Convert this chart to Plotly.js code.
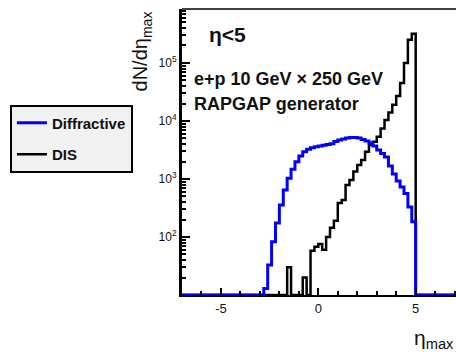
<!DOCTYPE html>
<html>
<head>
<meta charset="utf-8">
<script src="https://cdn.plot.ly/plotly-3.0.1.min.js"></script>
<style>
  html, body { margin: 0; padding: 0; background: #ffffff; }
  #chart { width: 456px; height: 352px; }
</style>
</head>
<body>
<div id="chart"></div>
<script>
// Histogram bin width in eta_max
const BIN_WIDTH = 0.2;

// Diffractive events: first bin low edge and counts per bin
const diffFirstEdge = -2.8;
const diffCounts = [
  13, 33, 83, 174, 355, 645, 1030, 1470, 1990, 2500,
  2960, 3250, 3450, 3600, 3700, 3800, 3920, 4060, 4430, 4700,
  4890, 5100, 5200, 5200, 5100, 4800, 4500, 4150, 3700, 3160,
  2750, 2390, 1670, 1220, 920, 725, 560, 330, 184
];

// DIS events: first bin low edge and counts per bin
const disFirstEdge = -1.6;
const disCounts = [
  30, 0, 0, 0, 20, 0, 58, 68, 76, 60,
  100, 145, 190, 385, 435, 790, 960, 1340, 1740, 2130,
  2960, 3860, 4390, 5350, 7400, 10400, 14000, 19000, 27000, 45000,
  100000, 250000, 320000
];

// Axis ticks
const xTickVals = [-5, 0, 5];
const xTickText = ['-5', '0', '5'];
const yTickVals = [1e2, 1e3, 1e4, 1e5];
const yTickText = ['10<sup>2</sup>', '10<sup>3</sup>', '10<sup>4</sup>', '10<sup>5</sup>'];

const X_RANGE = [-7, 7.07];
const Y_FLOOR = 10;                 // empty bins are drawn on the axis floor
const Y_RANGE_LOG = [1, 5.93];

const FONT = 'Liberation Sans, Arial, Helvetica, sans-serif';
const INK = '#111111';

// Build a step outline (ROOT-style histogram) from bin counts
function histOutline(firstEdge, counts) {
  const xs = [X_RANGE[0]];
  const ys = [Y_FLOOR];
  counts.forEach((c, i) => {
    xs.push(Math.round((firstEdge + i * BIN_WIDTH) * 100) / 100);
    ys.push(c > 0 ? c : Y_FLOOR);
  });
  xs.push(Math.round((firstEdge + counts.length * BIN_WIDTH) * 100) / 100);
  ys.push(Y_FLOOR);
  xs.push(X_RANGE[1]);
  ys.push(Y_FLOOR);
  return { x: xs, y: ys };
}

const dis = histOutline(disFirstEdge, disCounts);
const diff = histOutline(diffFirstEdge, diffCounts);

const traces = [
  {
    type: 'scatter', mode: 'lines', name: '<b>DIS</b>',
    x: dis.x, y: dis.y,
    line: { shape: 'hv', color: '#000000', width: 2.5 },
    cliponaxis: false, legendrank: 2, legendgroup: 'b',
    hoverinfo: 'skip'
  },
  {
    type: 'scatter', mode: 'lines', name: '<b>Diffractive</b>',
    x: diff.x, y: diff.y,
    line: { shape: 'hv', color: '#0000ff', width: 3 },
    cliponaxis: false, legendrank: 1, legendgroup: 'a',
    hoverinfo: 'skip'
  }
];

const layout = {
  width: 456, height: 352,
  margin: { l: 182, r: 0, t: 9, b: 57 },
  paper_bgcolor: '#ffffff', plot_bgcolor: '#ffffff',
  font: { family: FONT, color: INK },
  showlegend: true,
  legend: {
    x: -0.628, y: 0.666, xanchor: 'left', yanchor: 'top',
    bgcolor: '#f1f1f1', bordercolor: '#000000', borderwidth: 2,
    font: { family: FONT, size: 15, color: INK },
    traceorder: 'grouped', tracegroupgap: 9,
    entrywidth: 100
  },
  xaxis: {
    type: 'linear', range: X_RANGE,
    showgrid: false, zeroline: false,
    showline: true, linecolor: '#000000', linewidth: 2,
    tickmode: 'array', tickvals: xTickVals, ticktext: xTickText,
    ticks: 'inside', ticklen: 7, tickwidth: 2, tickcolor: '#000000',
    minor: { ticks: 'inside', ticklen: 4, tickwidth: 2, tickcolor: '#000000', dtick: 1, tick0: 0, showgrid: false },
    tickfont: { family: FONT, size: 13, color: INK }
  },
  yaxis: {
    type: 'log', range: Y_RANGE_LOG,
    showgrid: false, zeroline: false,
    showline: true, linecolor: '#000000', linewidth: 3,
    tickmode: 'array', tickvals: yTickVals, ticktext: yTickText,
    ticks: 'inside', ticklen: 8, tickwidth: 2, tickcolor: '#000000',
    minor: { ticks: 'inside', ticklen: 4, tickwidth: 2, tickcolor: '#000000', dtick: 'D1', showgrid: false },
    tickfont: { family: FONT, size: 12, color: INK }
  },
  shapes: [
    { type: 'line', xref: 'paper', yref: 'paper', x0: 0, x1: 1, y0: 1, y1: 1,
      line: { color: '#000000', width: 1.5 } }
  ],
  annotations: [
    { xref: 'paper', yref: 'paper', x: 0.09, y: 0.91, xanchor: 'left', yanchor: 'middle',
      text: '<b>η&lt;5</b>', showarrow: false, font: { family: FONT, size: 21, color: INK } },
    { xref: 'paper', yref: 'paper', x: 0.038, y: 0.755, xanchor: 'left', yanchor: 'middle',
      text: '<b>e+p 10 GeV × 250 GeV</b>', showarrow: false, font: { family: FONT, size: 18, color: INK } },
    { xref: 'paper', yref: 'paper', x: 0.038, y: 0.668, xanchor: 'left', yanchor: 'middle',
      text: '<b>RAPGAP generator</b>', showarrow: false, font: { family: FONT, size: 18, color: INK } },
    { xref: 'paper', yref: 'paper', x: -0.148, y: 1.0, xanchor: 'center', yanchor: 'top',
      text: 'dN/dη<sub>max</sub>', textangle: -90, showarrow: false,
      font: { family: FONT, size: 20, color: INK } },
    { xref: 'paper', yref: 'paper', x: 1.0, y: -0.1, xanchor: 'right', yanchor: 'top',
      text: 'η<sub>max</sub>', showarrow: false, font: { family: FONT, size: 21, color: INK } }
  ]
};

Plotly.newPlot('chart', traces, layout, { staticPlot: true, displayModeBar: false });
</script>
</body>
</html>
